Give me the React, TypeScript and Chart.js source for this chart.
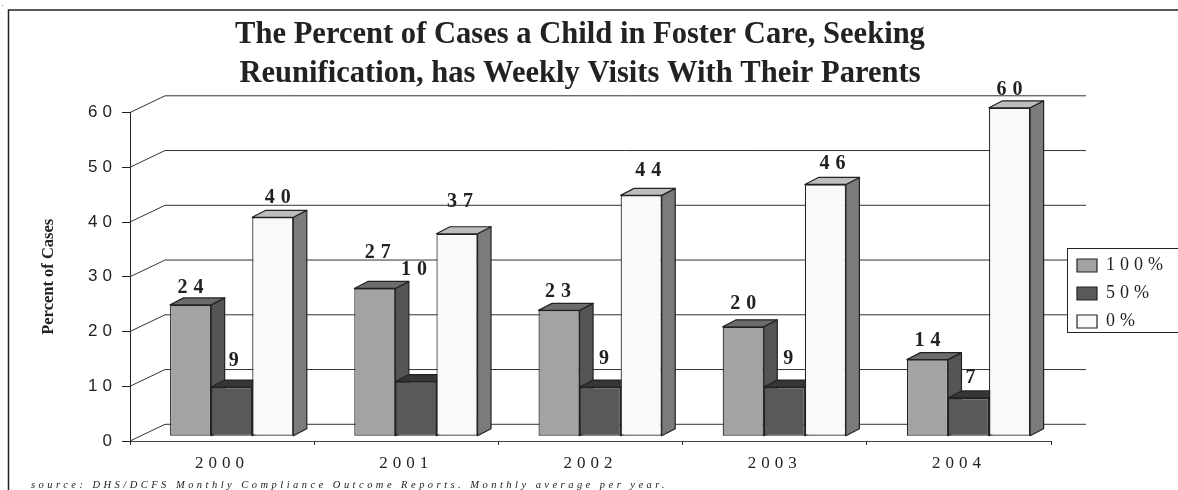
import React, { useEffect, useRef } from "react";
import { Chart, registerables } from "chart.js";

Chart.register(...registerables);

const years = ["2000", "2001", "2002", "2003", "2004"];
const visits100 = [24, 27, 23, 20, 14];
const visits50 = [9, 10, 9, 9, 7];
const visits0 = [40, 37, 44, 46, 60];
const seriesNames = ["100%", "50%", "0%"];
const titleLines = [
  "The Percent of Cases a Child in Foster Care, Seeking",
  "Reunification, has Weekly Visits With Their Parents",
];
const yAxisTitle = "Percent of Cases";
const sourceNote = "source: DHS/DCFS Monthly Compliance Outcome Reports. Monthly average per year.";

const SERIF = '"Liberation Serif", serif';
const SANS = '"Liberation Sans", sans-serif';
const INK = "#222222";

// per series, per year: [dx, lift] of a value label relative to its bar's front face
const labelPlacement = [
  [[0, 17.5], [3, 35.5], [-1, 18.5], [0, 22.5], [0, 18.5]],
  [[2, 26.5], [-2, 111.5], [4, 28.5], [4, 28.5], [2, 20.5]],
  [[5, 19.5], [3, 31.5], [7, 24.5], [7, 20.5], [0, 17.5]],
];

const faces = [
  { front: "#a3a3a3", side: "#555555", top: "#6c6c6c" },
  { front: "#595959", side: "#4a4a4a", top: "#363636" },
  { front: "#f9f9f9", side: "#7b7b7b", top: "#bdbdbd" },
];

const WALL = { dx: 35, dy: -16.7 };
const BAR_SHIFT = { dx: 9.6, dy: -4.7 };
const BAR_DEPTH = { dx: 13.5, dy: -7 };
const SPACED = "5px";

const threeD = {
  id: "threeD",
  afterLayout(chart: any) {
    const ctx = chart.ctx;
    const title = chart.titleBlock;
    if (!title.__wrapped) {
      title.__wrapped = true;
      const draw = title.draw.bind(title);
      title.draw = () => {
        ctx.save();
        ctx.letterSpacing = "0px";
        ctx.translate(580, 0);
        ctx.scale(0.955, 1);
        ctx.translate(-(title.left + title.right) / 2, 0);
        draw();
        ctx.restore();
      };
    }
    const y = chart.scales.y;
    if (!y.__wrapped) {
      y.__wrapped = true;
      const drawTitle = y.drawTitle.bind(y);
      y.drawTitle = () => {
        ctx.save();
        ctx.letterSpacing = "0px";
        drawTitle();
        ctx.restore();
      };
    }
    const legend = chart.legend;
    legend.left = 1067;
    legend.top = 246.5;
    legend.right = 1180;
    legend.bottom = 420;
  },
  beforeDraw(chart: any) {
    const { ctx, scales } = chart;
    const { x, y } = scales;
    ctx.save();
    ctx.fillStyle = "#ffffff";
    ctx.fillRect(0, 0, chart.width, chart.height);

    // page frame
    ctx.strokeStyle = INK;
    ctx.lineWidth = 1.5;
    ctx.beginPath();
    ctx.moveTo(8.5, 490);
    ctx.lineTo(8.5, 10);
    ctx.lineTo(1178, 10);
    ctx.stroke();
    ctx.fillStyle = "#777777";
    ctx.fillRect(2, 5, 1, 1);

    // back wall and left side wall
    ctx.strokeStyle = "#333333";
    ctx.lineWidth = 1;
    y.ticks.forEach((t: any) => {
      const py = y.getPixelForValue(t.value);
      ctx.beginPath();
      ctx.moveTo(x.left, py);
      ctx.lineTo(x.left + WALL.dx, py + WALL.dy);
      ctx.lineTo(x.right + WALL.dx, py + WALL.dy);
      ctx.stroke();
    });

    // legend frame, over the wall lines
    ctx.fillStyle = "#ffffff";
    ctx.strokeStyle = INK;
    ctx.fillRect(1067.5, 248.5, 120, 84);
    ctx.strokeRect(1067.5, 248.5, 120, 84);
    ctx.restore();

    ctx.letterSpacing = SPACED;
  },
  beforeDatasetDraw() {
    return false;
  },
  afterDatasetsDraw(chart: any) {
    const { ctx } = chart;
    chart.data.datasets.forEach((_: any, i: number) => {
      const meta = chart.getDatasetMeta(i);
      const face = faces[i];
      ctx.save();
      ctx.translate(BAR_SHIFT.dx, BAR_SHIFT.dy);
      ctx.strokeStyle = INK;
      ctx.lineWidth = 1.2;
      ctx.lineJoin = "round";
      meta.data.forEach((el: any) => {
        const { x, y, base, width } = el.getProps(["x", "y", "base", "width"], true);
        const l = x - width / 2;
        const r = x + width / 2;
        ctx.fillStyle = face.side;
        ctx.beginPath();
        ctx.moveTo(r, y);
        ctx.lineTo(r + BAR_DEPTH.dx, y + BAR_DEPTH.dy);
        ctx.lineTo(r + BAR_DEPTH.dx, base + BAR_DEPTH.dy);
        ctx.lineTo(r, base);
        ctx.closePath();
        ctx.fill();
        ctx.stroke();
        ctx.fillStyle = face.top;
        ctx.beginPath();
        ctx.moveTo(l, y);
        ctx.lineTo(l + BAR_DEPTH.dx, y + BAR_DEPTH.dy);
        ctx.lineTo(r + BAR_DEPTH.dx, y + BAR_DEPTH.dy);
        ctx.lineTo(r, y);
        ctx.closePath();
        ctx.fill();
        ctx.stroke();
        el.draw(ctx);
      });
      ctx.restore();
    });

    // value labels
    ctx.save();
    ctx.letterSpacing = "6px";
    ctx.font = `bold 20px ${SERIF}`;
    ctx.fillStyle = INK;
    ctx.textAlign = "center";
    ctx.textBaseline = "middle";
    chart.data.datasets.forEach((ds: any, i: number) => {
      chart.getDatasetMeta(i).data.forEach((el: any, j: number) => {
        const { x, y } = el.getProps(["x", "y"], true);
        const [dx, lift] = labelPlacement[i][j];
        ctx.fillText(String(ds.data[j]), x + BAR_SHIFT.dx + dx + 3, y + BAR_SHIFT.dy - lift);
      });
    });
    ctx.restore();

    // source note
    ctx.save();
    ctx.letterSpacing = "3.47px";
    ctx.font = `italic 10.5px ${SERIF}`;
    ctx.fillStyle = INK;
    ctx.textAlign = "left";
    ctx.textBaseline = "alphabetic";
    ctx.fillText(sourceNote, 31, 488);
    ctx.restore();
  },
};

export default function App() {
  const ref = useRef<HTMLCanvasElement>(null);
  useEffect(() => {
    const chart = new Chart(ref.current as HTMLCanvasElement, {
      type: "bar",
      data: {
        labels: years,
        datasets: [visits100, visits50, visits0].map((data, i) => ({
          label: seriesNames[i],
          data,
          backgroundColor: faces[i].front,
          borderColor: INK,
          borderWidth: 1.2,
          borderSkipped: false,
          categoryPercentage: 0.669,
          barPercentage: 1,
        })),
      },
      options: {
        responsive: false,
        animation: false,
        layout: { padding: { top: 0, left: 0, bottom: 0, right: 127 } },
        plugins: {
          tooltip: { enabled: false },
          title: {
            display: true,
            text: titleLines,
            color: INK,
            font: { family: SERIF, weight: "bold", size: 32, lineHeight: 1.2 },
            padding: { top: 16, bottom: 19.7 },
          },
          legend: {
            display: true,
            position: "chartArea",
            align: "start",
            labels: {
              boxWidth: 20,
              boxHeight: 13,
              padding: 10,
              color: INK,
              font: { family: SERIF, size: 18 },
            },
          },
        },
        scales: {
          x: {
            afterFit: (s: any) => {
              s.height = 49;
            },
            border: { color: "#444444", width: 1 },
            grid: { drawOnChartArea: false, drawTicks: true, tickLength: 4, color: "#222222" },
            ticks: {
              color: INK,
              maxRotation: 0,
              padding: 8,
              font: { family: SERIF, size: 17 },
            },
          },
          y: {
            min: 0,
            max: 60,
            afterFit: (s: any) => {
              s.width = 130;
            },
            border: { color: INK, width: 1 },
            grid: { drawOnChartArea: false, drawTicks: true, tickLength: 8, color: "#222222" },
            ticks: {
              stepSize: 10,
              color: INK,
              padding: 5,
              font: { family: SANS, size: 17 },
            },
            title: {
              display: true,
              text: yAxisTitle,
              color: INK,
              font: { family: SERIF, weight: "bold", size: 16.5 },
              padding: { top: 39, bottom: 39 },
            },
          },
        },
      },
      plugins: [threeD],
    } as any);
    return () => chart.destroy();
  }, []);
  return (
    <canvas
      ref={ref}
      width={1178}
      height={490}
      style={{ position: "absolute", left: 0, top: 0, display: "block" }}
    />
  );
}
